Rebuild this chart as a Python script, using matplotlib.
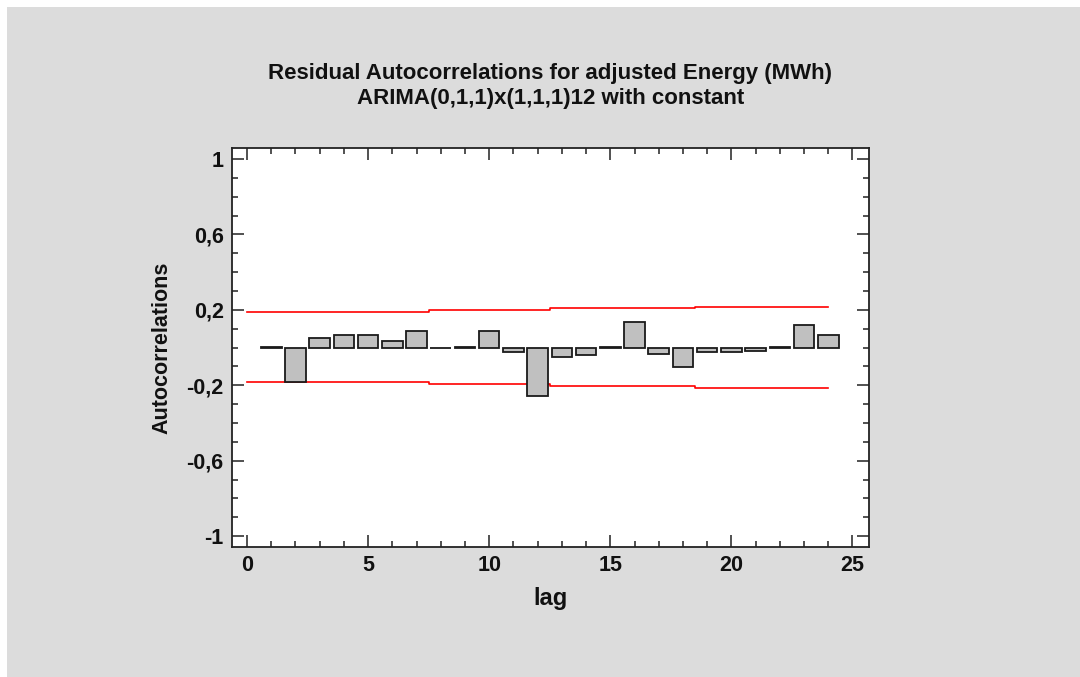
import matplotlib
matplotlib.use('Agg')
import matplotlib.pyplot as plt
import numpy as np
from matplotlib.patches import Rectangle
from matplotlib.ticker import FixedLocator, MultipleLocator

plt.rcParams['font.family'] = ['Liberation Sans', 'DejaVu Sans']

# -- DATA --
lags = np.arange(1, 25)
acf = [0.003, -0.182, 0.049, 0.065, 0.065, 0.033, 0.088, -0.002,
       0.002, 0.088, -0.023, -0.256, -0.050, -0.041, 0.002, 0.136,
       -0.032, -0.104, -0.023, -0.023, -0.016, 0.002, 0.120, 0.065]

limit_lags = np.arange(0, 25)
upper = [0.190] * 8 + [0.199] * 5 + [0.208] * 6 + [0.217] * 6
lower = [-0.184] * 8 + [-0.192] * 5 + [-0.205] * 6 + [-0.214] * 6

ytick_vals = [-1, -0.6, -0.2, 0.2, 0.6, 1]
ytick_labels = ['-1', '-0,6', '-0,2', '0,2', '0,6', '1']
xtick_vals = [0, 5, 10, 15, 20, 25]

title = ('Residual Autocorrelations for adjusted Energy (MWh)\n'
         'ARIMA(0,1,1)x(1,1,1)12 with constant')

# -- PLOT --
bg = '#dcdcdc'
fig = plt.figure(figsize=(10.8, 6.77), dpi=100)
fig.patch.set_facecolor('white')
fig.patches.append(Rectangle((7 / 1080, 0), 1, 1 - 7 / 677,
                             transform=fig.transFigure, facecolor=bg,
                             edgecolor='none', zorder=-10))

ax = fig.add_axes([0.2148, 0.192, 0.5898, 0.5894])
ax.set_facecolor('white')

ax.bar(lags, acf, width=0.85, color='#c0c0c0', edgecolor='#1a1a1a',
       linewidth=1.3, zorder=3)
ax.step(limit_lags, upper, where='mid', color='red', linewidth=1.2, zorder=2)
ax.step(limit_lags, lower, where='mid', color='red', linewidth=1.2, zorder=2)

ax.set_xlim(-0.62, 25.68)
ax.set_ylim(-1.058, 1.058)

ax.xaxis.set_major_locator(FixedLocator(xtick_vals))
ax.xaxis.set_minor_locator(MultipleLocator(1))
ax.yaxis.set_major_locator(FixedLocator(ytick_vals))
ax.set_yticklabels(ytick_labels)
ax.yaxis.set_minor_locator(MultipleLocator(0.1))

ax.tick_params(which='both', direction='in', top=True, right=True,
               color='#222222', width=1.1)
ax.tick_params(which='major', length=8.5, labelsize=15.5, pad=6)
ax.tick_params(which='minor', length=4)
for lbl in ax.get_xticklabels() + ax.get_yticklabels():
    lbl.set_fontweight('bold')
    lbl.set_color('#111111')

for sp in ax.spines.values():
    sp.set_linewidth(1.3)
    sp.set_color('#222222')

ax.set_xlabel('lag', fontsize=17, fontweight='bold', color='#111111')
ax.xaxis.set_label_coords(0.5, -0.1)
ax.set_ylabel('Autocorrelations', fontsize=15.5, fontweight='bold',
              color='#111111')
ax.yaxis.set_label_coords(-0.094, 0.5)

ax.set_title(title, fontsize=16, fontweight='bold', color='#111111',
             linespacing=1.2, pad=32)

plt.savefig('out.png', dpi=100, facecolor=fig.get_facecolor())
